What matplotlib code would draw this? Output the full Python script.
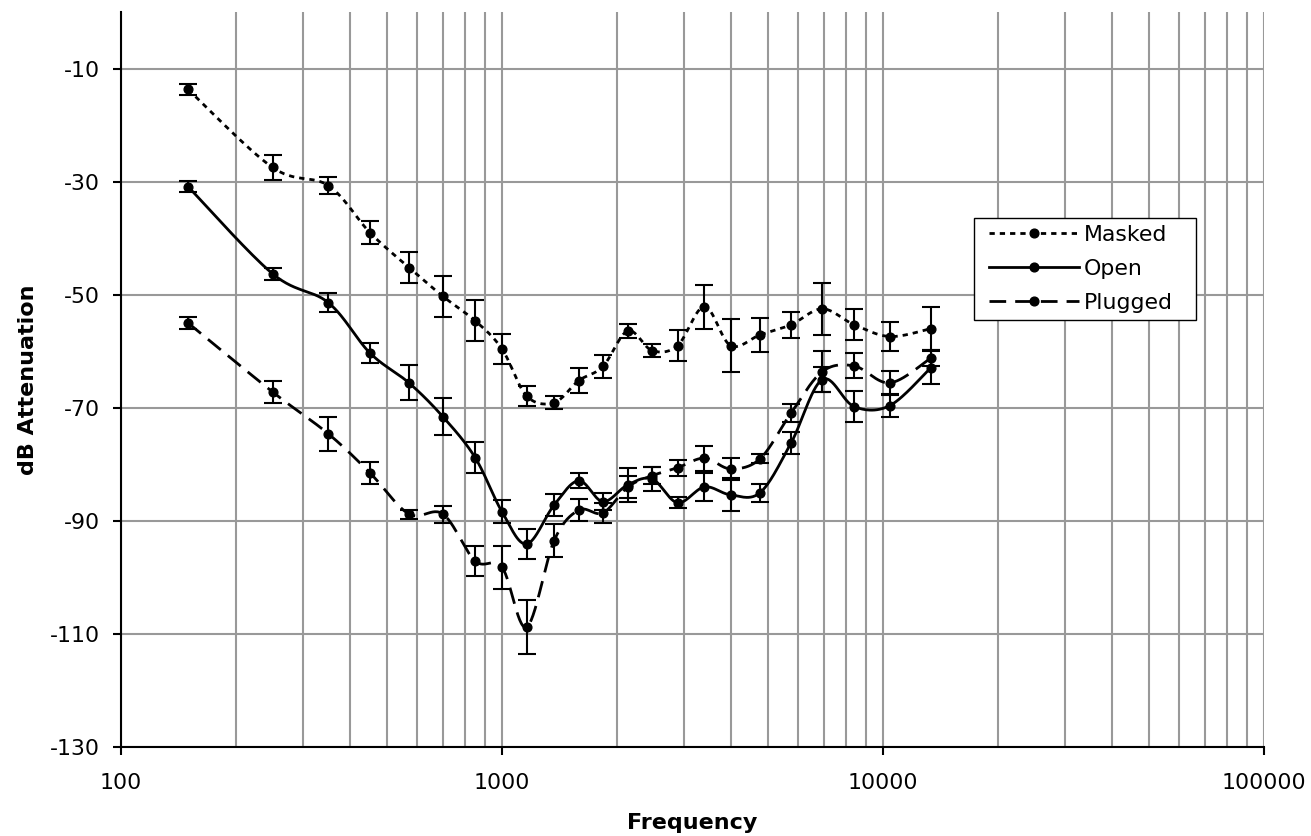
import numpy as np
import matplotlib
matplotlib.use("Agg")
import matplotlib.pyplot as plt
from matplotlib.lines import Line2D
from matplotlib.legend_handler import HandlerLine2D
from matplotlib.ticker import FixedLocator, FixedFormatter, NullLocator, LogLocator

plt.rcParams['font.family'] = ['DejaVu Sans']
plt.rcParams['lines.scale_dashes'] = False

# ---------------- data ----------------
freq = [150, 250, 350, 450, 570, 700, 850, 1000, 1160, 1370, 1590, 1840,
        2140, 2480, 2890, 3400, 3980, 4760, 5740, 6930, 8400, 10430, 13360]

masked = [-13.7, -27.5, -30.7, -39.0, -45.2, -50.3, -54.6, -59.6, -67.9, -69.1,
          -65.2, -62.7, -56.4, -59.9, -59.0, -52.1, -59.0, -57.1, -55.3, -52.5,
          -55.3, -57.4, -56.0]
masked_err = [1.0, 2.2, 1.5, 2.1, 2.7, 3.6, 3.6, 2.6, 1.7, 1.1, 2.2, 2.0, 1.3,
              1.1, 2.8, 3.9, 4.7, 3.0, 2.3, 4.6, 2.8, 2.5, 3.8]

open_ = [-30.9, -46.3, -51.4, -60.3, -65.6, -71.6, -78.8, -88.4, -94.1, -87.2,
         -82.9, -86.6, -83.6, -82.6, -86.8, -84.0, -85.4, -85.0, -76.2, -65.0,
         -69.8, -69.6, -62.9]
open_err = [1.0, 1.1, 1.7, 1.8, 3.1, 3.3, 2.8, 2.0, 2.7, 1.9, 1.3, 1.5, 3.0,
            2.2, 1.0, 2.5, 2.9, 1.6, 1.9, 2.2, 2.7, 2.0, 2.9]

plugged = [-55.0, -67.2, -74.6, -81.5, -88.8, -88.8, -97.1, -98.2, -108.8, -93.5,
           -88.1, -88.6, -84.0, -82.0, -80.6, -78.9, -80.8, -79.0, -70.9, -63.6,
           -62.6, -65.6, -61.2]
plugged_err = [1.1, 1.9, 3.0, 1.9, 0.8, 1.5, 2.7, 3.8, 4.8, 2.9, 2.0, 1.7, 2.0,
               1.5, 1.4, 2.2, 1.9, 0.8, 1.6, 3.6, 2.2, 2.1, 1.5]

series_names = ["Masked", "Open", "Plugged"]
x_ticks = [100, 1000, 10000, 100000]
x_ticklabels = ["100", "1000", "10000", "100000"]
y_ticks = [-130, -110, -90, -70, -50, -30, -10]
y_ticklabels = ["-130", "-110", "-90", "-70", "-50", "-30", "-10"]


def smooth(xs, ys, n=30):
    """Excel-like smoothed line (Catmull-Rom Bezier) in log-x space."""
    lx = np.log10(np.asarray(xs, float))
    yy = np.asarray(ys, float)
    P = np.column_stack([lx, yy])
    m = len(P)
    out = []
    t = np.linspace(0, 1, n)[:, None]
    for i in range(m - 1):
        p0 = P[i - 1] if i > 0 else P[i]
        p1 = P[i]
        p2 = P[i + 1]
        p3 = P[i + 2] if i + 2 < m else P[i + 1]
        c1 = p1 + (p2 - p0) / 6.0
        c2 = p2 - (p3 - p1) / 6.0
        seg = ((1 - t) ** 3) * p1 + 3 * ((1 - t) ** 2) * t * c1 + 3 * (1 - t) * t ** 2 * c2 + t ** 3 * p2
        out.append(seg if i == 0 else seg[1:])
    out = np.vstack(out)
    return 10 ** out[:, 0], out[:, 1]


W, H = 1311, 836
fig = plt.figure(figsize=(W / 100, H / 100), dpi=100)
L, R, T, B = 121, 1264, 12, 747
ax = fig.add_axes([L / W, (H - B) / H, (R - L) / W, (B - T) / H])

styles = {
    "Masked": dict(ls=(0, (3.8, 3.6))),
    "Open": dict(ls='-'),
    "Plugged": dict(ls=(0, (12, 6.5))),
}
data = {
    "Masked": (masked, masked_err),
    "Open": (open_, open_err),
    "Plugged": (plugged, plugged_err),
}

lw = 2.0
for name in series_names:
    vals, errs = data[name]
    sx, sy = smooth(freq, vals)
    ax.plot(sx, sy, color='black', lw=lw, linestyle=styles[name]['ls'], zorder=3)
    ax.errorbar(freq, vals, yerr=errs, fmt='none', ecolor='black', elinewidth=1.5,
                capsize=6.5, capthick=1.5, zorder=4)
    ax.plot(freq, vals, 'o', color='black', ms=6.3, zorder=5)

ax.set_xscale('log')
ax.set_xlim(100, 100000)
ax.set_ylim(-130, 0)

ax.xaxis.set_major_locator(FixedLocator(x_ticks))
ax.xaxis.set_major_formatter(FixedFormatter(x_ticklabels))
ax.xaxis.set_minor_locator(LogLocator(base=10, subs=np.arange(2, 10)))
ax.yaxis.set_major_locator(FixedLocator(y_ticks))
ax.yaxis.set_major_formatter(FixedFormatter(y_ticklabels))
ax.yaxis.set_minor_locator(NullLocator())

ax.grid(True, which='major', axis='both', color='#999999', lw=1.5, zorder=0)
ax.grid(True, which='minor', axis='x', color='#999999', lw=1.5, zorder=0)
ax.set_axisbelow(True)

ax.tick_params(axis='both', which='major', direction='out', length=6, width=1.5,
               labelsize=15.8, color='black', pad=9)
ax.tick_params(axis='x', which='minor', length=0)
ax.tick_params(axis='x', which='major', pad=13)
for s in ['top', 'right']:
    ax.spines[s].set_visible(False)
for s in ['left', 'bottom']:
    ax.spines[s].set_linewidth(1.5)
    ax.spines[s].set_color('black')

fig.text(0.5 * (L + R) / W, 1 - 823 / H, "Frequency", ha='center', va='center',
         fontsize=16, fontweight='bold')
fig.text(28 / W, 1 - 0.5 * (T + B) / H, "dB Attenuation", ha='center', va='center',
         rotation=90, fontsize=16, fontweight='bold')

# legend
fs = 15.8
fs_px = fs * 100 / 72.0
handles = [Line2D([], [], color='black', lw=lw, linestyle=styles[n]['ls'],
                  marker='o', ms=6.3) for n in series_names]
xpad = 8 / fs_px
hmap = {h: HandlerLine2D(numpoints=1, xpad=xpad) for h in handles}
lx0, lx1, ly0, ly1 = 974, 1196, 218, 320
bbox = ((lx0 - L) / (R - L), (B - ly1) / (B - T),
        (lx1 - lx0) / (R - L), (ly1 - ly0) / (B - T))
leg = ax.legend(handles, series_names, loc='upper left', bbox_to_anchor=bbox,
                mode='expand', borderaxespad=0, frameon=True, fancybox=False,
                fontsize=fs, handlelength=(90 + 8) / fs_px, handletextpad=0.2,
                labelspacing=0.64, borderpad=0.32, handler_map=hmap)
leg.get_frame().set_edgecolor('black')
leg.get_frame().set_linewidth(1.0)
leg.get_frame().set_facecolor('white')
leg.get_frame().set_alpha(1)

fig.savefig("out.png", dpi=100)
